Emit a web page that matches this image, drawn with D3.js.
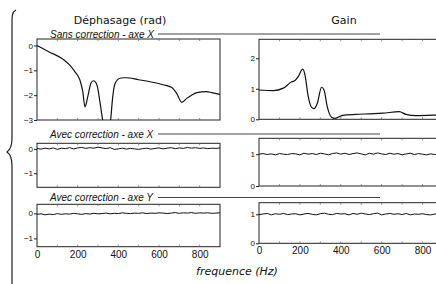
<!DOCTYPE html>
<html>
<head>
<meta charset="utf-8">
<script src="https://cdn.jsdelivr.net/npm/d3@7"></script>
<style>
  body { margin: 0; background: #fff; }
  svg { display: block; font-family: "DejaVu Sans", sans-serif; }
  .domain { stroke: #222; }
  .tick line { stroke: #222; }
  .tick text { fill: #111; }
</style>
</head>
<body>
<svg></svg>
<script>
// --------------- data

// uncorrected phase (rad) and gain
const rawFreq  = [0, 60, 129, 160, 187, 211, 225, 236, 250, 265, 277, 290, 297, 310, 323, 330, 355, 362, 372, 384, 408, 425, 441, 500, 556, 620, 663, 687, 712, 736, 760, 786, 835, 860, 900];
const rawPhase = [0, -0.26, -0.56, -0.78, -1.06, -1.39, -1.85, -2.47, -2.05, -1.52, -1.42, -1.50, -1.66, -2.30, -3, -3.3, -3.3, -3, -2.10, -1.53, -1.32, -1.30, -1.30, -1.38, -1.46, -1.58, -1.69, -1.93, -2.29, -2.13, -2.00, -1.90, -1.86, -1.90, -1.97];

const gainFreq = [0, 70, 119, 160, 176, 192, 214, 225, 241, 257, 269, 285, 306, 318, 334, 355, 372, 409, 474, 540, 605, 686, 719, 768, 866, 900];
const rawGain  = [0.96, 0.94, 1.02, 1.23, 1.27, 1.40, 1.64, 1.45, 0.74, 0.39, 0.35, 0.52, 1.05, 0.96, 0.41, 0.07, 0.03, 0.13, 0.16, 0.18, 0.20, 0.25, 0.16, 0.12, 0.14, 0.15];

// corrected measurements, every 20 Hz
const corrFreq = d3.range(0, 901, 20);
const phaseCorrX = [0.02, -0.01, 0.03, 0.00, 0.04, -0.02, 0.03, 0.01, 0.05, 0.00, 0.04, 0.06, 0.02, 0.05, 0.03, 0.07, 0.04, 0.01, 0.05, -0.02, 0.00, 0.03, -0.01, 0.02, 0.00, -0.02, 0.01, 0.03, -0.01, 0.02, 0.04, 0.00, 0.03, 0.05, 0.01, 0.04, 0.02, 0.06, 0.03, 0.05, 0.02, 0.04, 0.01, 0.03, 0.02, 0.04];
const phaseCorrY = [-0.04, -0.02, -0.06, -0.03, -0.05, -0.01, -0.04, -0.02, -0.03, 0.00, -0.02, -0.04, -0.01, -0.03, 0.00, -0.02, -0.01, 0.01, -0.02, 0.00, -0.01, 0.02, 0.00, -0.01, 0.01, 0.00, 0.02, -0.01, 0.01, 0.00, 0.02, 0.01, -0.01, 0.01, 0.03, 0.00, 0.02, 0.01, 0.03, 0.00, 0.02, 0.01, 0.02, 0.00, 0.01, 0.02];
const gainCorrX  = [1.00, 1.02, 0.99, 1.01, 0.98, 1.02, 1.00, 0.99, 1.02, 1.01, 0.98, 1.03, 1.00, 1.02, 0.99, 1.03, 1.01, 0.98, 1.02, 1.04, 1.00, 1.03, 0.99, 1.02, 1.04, 1.01, 0.98, 1.03, 1.00, 1.04, 1.01, 0.99, 1.03, 1.00, 1.02, 0.98, 1.01, 1.03, 0.99, 1.02, 1.00, 0.98, 1.01, 0.99, 1.02, 1.00];
const gainCorrY  = [0.99, 1.01, 1.03, 0.98, 1.02, 1.00, 1.03, 0.99, 1.01, 1.02, 0.98, 1.01, 1.03, 1.00, 0.98, 1.02, 1.04, 1.00, 0.99, 1.03, 1.01, 1.02, 0.98, 1.03, 1.00, 1.04, 1.01, 0.99, 1.02, 1.04, 0.98, 1.01, 1.03, 1.00, 1.02, 0.99, 1.03, 0.98, 1.01, 1.00, 1.02, 0.99, 0.98, 1.01, 0.99, 1.00];

const xTicks = [0, 200, 400, 600, 800];
const rowTitles = ['Sans correction - axe X', 'Avec correction - axe X', 'Avec correction - axe Y'];
const colTitles = ['Déphasage (rad)', 'Gain'];

// --------------- setup
const width = 436;
const height = 284;
const svg = d3.select('svg').attr('width', width).attr('height', height);

const panels = [
  { x: [37, 220], y: [120, 39], dom: [-3, 0.26], ticks: [0, -1, -2, -3], f: rawFreq, v: rawPhase, smooth: true },
  { x: [259, 443], y: [119.3, 39.3], dom: [0, 2.62], ticks: [0, 1, 2], f: gainFreq, v: rawGain, smooth: true },
  { x: [37, 220], y: [187.3, 143.3], dom: [-1.58, 0.23], ticks: [0, -1], f: corrFreq, v: phaseCorrX },
  { x: [259, 443], y: [186, 138.3], dom: [0, 1.5], ticks: [0, 1], f: corrFreq, v: gainCorrX },
  { x: [37, 220], y: [246.7, 204.3], dom: [-1.33, 0.36], ticks: [0, -1], f: corrFreq, v: phaseCorrY, bottom: true },
  { x: [259, 443], y: [243.3, 202.7], dom: [0, 1.4], ticks: [0, 1], f: corrFreq, v: gainCorrY, bottom: true }
];

panels.forEach(function (p, i) {
  const xScale = d3.scaleLinear().domain([0, 900]).range(p.x);
  const yScale = d3.scaleLinear().domain(p.dom).range(p.y);
  const g = svg.append('g');

  g.append('clipPath').attr('id', 'clip' + i)
    .append('rect')
    .attr('x', p.x[0]).attr('y', p.y[1])
    .attr('width', p.x[1] - p.x[0]).attr('height', p.y[0] - p.y[1]);

  // frame
  g.append('rect')
    .attr('x', p.x[0]).attr('y', p.y[1])
    .attr('width', p.x[1] - p.x[0]).attr('height', p.y[0] - p.y[1])
    .attr('fill', 'none').attr('stroke', '#222').attr('stroke-width', 1);

  // small inner ticks along top and bottom
  const minor = d3.range(100, 900, 100);
  g.selectAll('.mt').data(minor).enter().append('line')
    .attr('x1', xScale).attr('x2', xScale)
    .attr('y1', p.y[1]).attr('y2', p.y[1] + 2)
    .attr('stroke', '#666').attr('stroke-width', 0.7);
  g.selectAll('.mb').data(minor).enter().append('line')
    .attr('x1', xScale).attr('x2', xScale)
    .attr('y1', p.y[0]).attr('y2', p.y[0] - 2)
    .attr('stroke', '#666').attr('stroke-width', 0.7);

  g.append('g')
    .attr('transform', 'translate(' + p.x[0] + ',0)')
    .call(d3.axisLeft(yScale).tickValues(p.ticks).tickFormat(d3.format('d')).tickSize(3).tickSizeOuter(0).tickPadding(1))
    .call(function (a) { a.select('.domain').remove(); })
    .selectAll('text').style('font-size', '8px');

  if (p.bottom) {
    g.append('g')
      .attr('transform', 'translate(0,' + p.y[0] + ')')
      .call(d3.axisBottom(xScale).tickValues(xTicks).tickSize(0).tickPadding(4))
      .call(function (a) { a.select('.domain').remove(); })
      .selectAll('text').style('font-size', '10px');
  }

  const line = d3.line()
    .x(function (d) { return xScale(d[0]); })
    .y(function (d) { return yScale(d[1]); })
    .curve(p.smooth ? d3.curveMonotoneX : d3.curveLinear);

  g.append('path')
    .datum(p.f.map(function (f, k) { return [f, p.v[k]]; }))
    .attr('clip-path', 'url(#clip' + i + ')')
    .attr('d', line)
    .attr('fill', 'none')
    .attr('stroke', '#111')
    .attr('stroke-width', p.smooth ? 1.2 : 1);
});

// column titles
svg.selectAll('.col').data(colTitles).enter().append('text')
  .attr('x', function (d, i) { return i === 0 ? 120 : 344; })
  .attr('y', 24)
  .attr('text-anchor', 'middle')
  .style('font-size', '11px')
  .attr('fill', '#111')
  .text(function (d) { return d; });

// row titles with rule
const rowY = [34, 134, 197.5];
svg.selectAll('.row').data(rowTitles).enter().append('text')
  .attr('x', 50)
  .attr('y', function (d, i) { return rowY[i] + 3.5; })
  .style('font-family', '"Liberation Sans", sans-serif')
  .style('font-size', '10px')
  .style('font-style', 'italic')
  .attr('fill', '#111')
  .text(function (d) { return d; });
svg.selectAll('.rule').data(rowY).enter().append('line')
  .attr('x1', 158).attr('x2', 380)
  .attr('y1', function (d) { return d; }).attr('y2', function (d) { return d; })
  .attr('stroke', '#444').attr('stroke-width', 1);

// x label
svg.append('text')
  .attr('x', 237).attr('y', 275)
  .attr('text-anchor', 'middle')
  .style('font-size', '11px')
  .style('font-style', 'italic')
  .attr('fill', '#111')
  .text('frequence (Hz)');

// brace on the left
svg.append('path')
  .attr('d', 'M16,10 C12,12 12,16 12,24 L12,138 C12,146 10,150 7,152 C10,154 12,158 12,166 L12,292')
  .attr('fill', 'none').attr('stroke', '#222').attr('stroke-width', 1.2);
</script>
</body>
</html>
